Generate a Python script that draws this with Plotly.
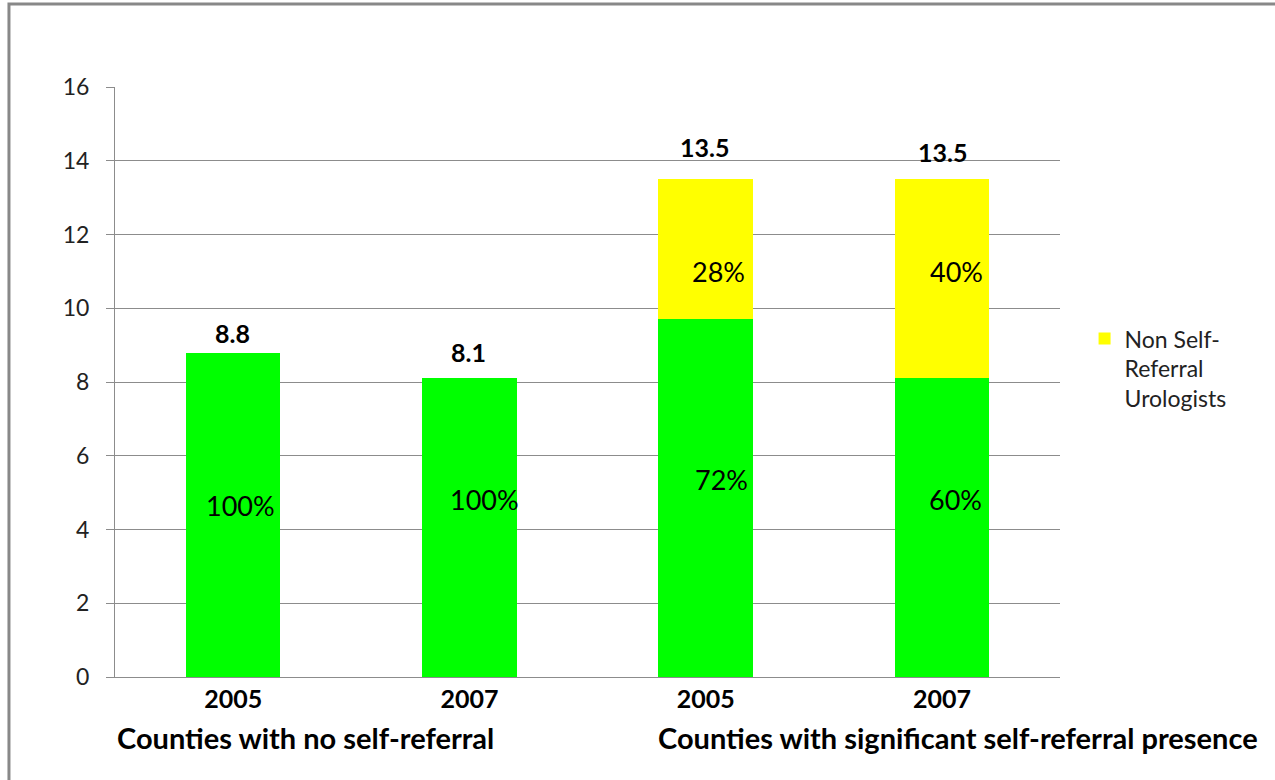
import plotly.graph_objects as go

# Groups / years along the x axis
years = ["2005", "2007", "2005", "2007"]
groups = ["Counties with no self-referral", "Counties with significant self-referral presence"]

# Urologists per county (totals) and self-referral share
totals = [8.8, 8.1, 13.5, 13.5]
self_share = [100, 100, 72, 60]          # % self-referral / base (green)
non_self_share = [None, None, 28, 40]    # % non self-referral (yellow)

green_vals = [t * s / 100 for t, s in zip(totals, self_share)]
yellow_vals = [0 if p is None else t * p / 100 for t, p in zip(totals, non_self_share)]

xpos = list(range(len(years)))

FONT = "Lato"
GRID = "#8c8c8c"

fig = go.Figure()
fig.add_trace(go.Bar(x=xpos, y=green_vals, marker=dict(color="#00FF00", line=dict(width=0)),
                     width=0.4, showlegend=False, name="Self-Referral Urologists"))
fig.add_trace(go.Bar(x=xpos, y=yellow_vals, marker=dict(color="#FFFF00", line=dict(width=0)),
                     width=0.4, name="Non Self-<br>Referral<br>Urologists"))

# label offsets in pixels (x, y)
green_shift = [(7, 9), (15, 28), (16, 18), (14, 28)]
yellow_shift = [(0, 0), (0, 0), (13, -23), (15, 7)]
total_shift = [(-1, 20), (-1, 26), (-1, 32), (1, 27)]

ann = []
for i in xpos:
    ann.append(dict(x=i, y=green_vals[i] / 2, text=f"{self_share[i]}%", showarrow=False,
                    xshift=green_shift[i][0], yshift=green_shift[i][1],
                    font=dict(family=FONT, size=27, color="#000")))
    if non_self_share[i] is not None:
        ann.append(dict(x=i, y=green_vals[i] + yellow_vals[i] / 2, text=f"{non_self_share[i]}%",
                        showarrow=False, xshift=yellow_shift[i][0], yshift=yellow_shift[i][1],
                        font=dict(family=FONT, size=27, color="#000")))
    ann.append(dict(x=i, y=totals[i], text=f"{totals[i]:g}", showarrow=False,
                    xshift=total_shift[i][0], yshift=total_shift[i][1],
                    font=dict(family=FONT, size=25, color="#000", weight="bold")))

# group captions under the year labels
ann.append(dict(xref="paper", yref="paper", x=0.2021, y=-0.1017, text=groups[0], showarrow=False,
                xanchor="center", yanchor="middle",
                font=dict(family=FONT, size=29, color="#000", weight="bold")))
ann.append(dict(xref="paper", yref="paper", x=0.892, y=-0.1017, text=groups[1], showarrow=False,
                xanchor="center", yanchor="middle",
                font=dict(family=FONT, size=29, color="#000", weight="bold")))

fig.update_layout(
    width=1275, height=780,
    margin=dict(l=115, r=215, t=87, b=103),
    paper_bgcolor="white", plot_bgcolor="white",
    barmode="stack",
    annotations=ann,
    shapes=[dict(type="rect", xref="paper", yref="paper", x0=-0.1122, x1=1.25, y0=-0.25, y1=1.1407,
                 line=dict(color="#888888", width=3), layer="above")],
    legend=dict(x=1.026, y=0.61, xanchor="left", yanchor="top", valign="top",
                font=dict(family=FONT, size=23, color="#222"), bgcolor="rgba(0,0,0,0)",
                tracegroupgap=0),
    xaxis=dict(range=[-0.5, 3.5], tickvals=xpos, ticktext=years, showline=True, linecolor=GRID,
               linewidth=1, ticks="", showgrid=False, zeroline=False,
               tickfont=dict(family=FONT, size=25, color="#000", weight="bold")),
    yaxis=dict(range=[0, 16], dtick=2, showgrid=True, gridcolor=GRID, gridwidth=1,
               showline=True, linecolor=GRID, linewidth=1, ticks="outside", ticklen=8,
               tickcolor=GRID, zeroline=False, ticklabelstandoff=12,
               tickfont=dict(family=FONT, size=23, color="#222")),
)

fig.write_html("out.html")
